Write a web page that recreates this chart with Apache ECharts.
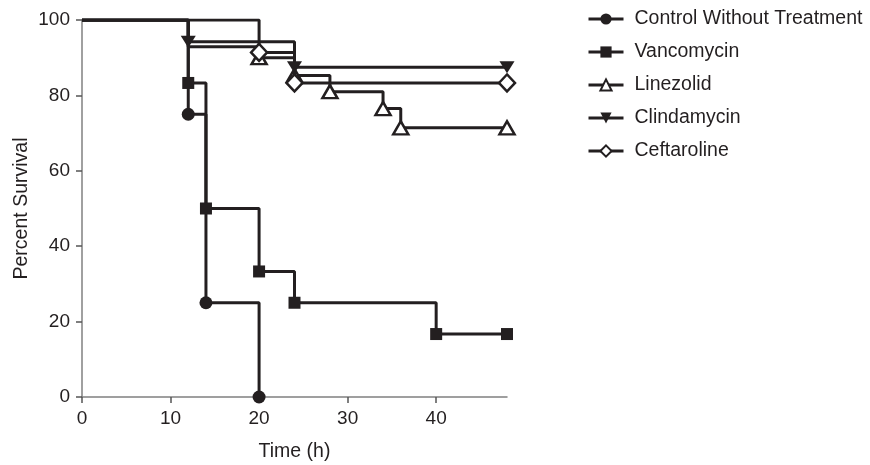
<!DOCTYPE html>
<html>
<head>
<meta charset="utf-8">
<script src="https://cdn.jsdelivr.net/npm/echarts@6/dist/echarts.min.js"></script>
<style>html,body{margin:0;padding:0;background:#fff}#c{width:870px;height:465px}</style>
</head>
<body>
<div id="c"></div>
<script>
// Kaplan-Meier survival data (time in hours, percent survival)
const seriesNames = ['Control Without Treatment', 'Vancomycin', 'Linezolid', 'Clindamycin', 'Ceftaroline'];
const controlTime = [0, 12, 14, 20];
const controlSurv = [100, 75, 25, 0];
const vancoTime = [0, 12, 14, 20, 24, 40, 48];
const vancoSurv = [100, 83.3, 50, 33.3, 25, 16.7, 16.7];
const linezolidTime = [0, 20, 24, 28, 34, 36, 48];
const linezolidSurv = [100, 90, 85.3, 81, 76.5, 71.4, 71.4];
const clindaTime = [0, 12, 24, 48];
const clindaSurv = [100, 94.2, 87.5, 87.5];
const ceftaTime = [0, 12, 20, 24, 48];
const ceftaSurv = [100, 92.9, 91.4, 83.3, 83.3];
// points drawn without a symbol (start point, hidden step)
const ceftaNoMarkerTimes = [0, 12];
const xTicks = [0, 10, 20, 30, 40];
const yTicks = [0, 20, 40, 60, 80, 100];

const INK = '#231f20';
const FONT = 'Liberation Sans, Arial, sans-serif';
function build(times, survs, noMarker) {
  noMarker = noMarker || [0];
  return times.map((t, i) => {
    const d = { value: [t, survs[i]] };
    if (noMarker.indexOf(t) >= 0) d.symbol = 'none';
    return d;
  });
}
const markerDefs = [
  { symbol: 'circle', size: 13, fill: INK, rot: 0 },
  { symbol: 'rect', size: 12, fill: INK, rot: 0 },
  { symbol: 'triangle', size: [15, 13], fill: '#fff', rot: 0 },
  { symbol: 'triangle', size: [15, 12], fill: INK, rot: 180 },
  { symbol: 'diamond', size: [16, 17], fill: '#fff', rot: 0 }
];
const datas = [
  build(controlTime, controlSurv),
  build(vancoTime, vancoSurv),
  build(linezolidTime, linezolidSurv),
  build(clindaTime, clindaSurv),
  build(ceftaTime, ceftaSurv, ceftaNoMarkerTimes)
];
const series = seriesNames.map((name, i) => ({
  name: name,
  type: 'line',
  step: 'end',
  data: datas[i],
  symbol: markerDefs[i].symbol,
  symbolSize: markerDefs[i].size,
  symbolRotate: markerDefs[i].rot,
  showAllSymbol: true,
  lineStyle: { color: INK, width: 3 },
  itemStyle: { color: markerDefs[i].fill, borderColor: INK, borderWidth: markerDefs[i].fill === '#fff' ? 2.5 : 0, opacity: 1 },
  emphasis: { disabled: true },
  z: 2 + i
}));

const chart = echarts.init(document.getElementById('c'), null, { renderer: 'canvas' });
chart.setOption({
  animation: false,
  backgroundColor: '#fff',
  textStyle: { fontFamily: FONT },
  grid: { left: 82, right: 363, top: 20, bottom: 68, containLabel: false, outerBoundsMode: 'none' },
  legend: {
    orient: 'vertical',
    left: 587,
    top: 9,
    padding: 0,
    itemWidth: 35,
    itemHeight: 14,
    itemGap: 13,
    data: seriesNames,
    lineStyle: { width: 3, color: INK },
    textStyle: { color: INK, fontSize: 19.5, fontFamily: FONT, padding: [0, 0, 0, 6] }
  },
  xAxis: {
    type: 'value',
    min: 0, max: 48, interval: 10,
    name: 'Time (h)',
    nameLocation: 'middle',
    nameGap: 45,
    nameTextStyle: { color: INK, fontSize: 19.5, fontFamily: FONT },
    axisLine: { show: true, onZero: false, lineStyle: { color: '#808080', width: 1.5 } },
    axisTick: { show: true, length: 6, customValues: xTicks, lineStyle: { color: '#555', width: 1.5 } },
    axisLabel: { customValues: xTicks, color: INK, fontSize: 19, margin: 12, fontFamily: FONT },
    splitLine: { show: false }
  },
  yAxis: {
    type: 'value',
    min: 0, max: 100, interval: 20,
    name: 'Percent Survival',
    nameLocation: 'middle',
    nameGap: 50,
    nameTextStyle: { color: INK, fontSize: 19.5, fontFamily: FONT },
    axisLine: { show: true, onZero: false, lineStyle: { color: '#808080', width: 1.5 } },
    axisTick: { show: true, length: 6, customValues: yTicks, lineStyle: { color: '#555', width: 1.5 } },
    axisLabel: { customValues: yTicks, color: INK, fontSize: 19, margin: 12, fontFamily: FONT },
    splitLine: { show: false }
  },
  series: series
});
</script>
</body>
</html>
